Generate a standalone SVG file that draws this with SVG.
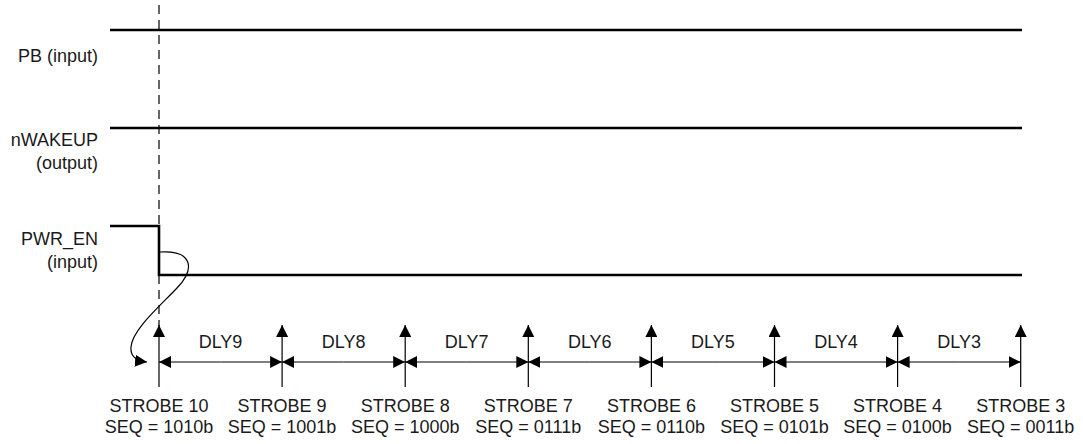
<svg xmlns="http://www.w3.org/2000/svg" width="1083" height="444" viewBox="0 0 1083 444">
<style>
text{font-family:"Liberation Sans",Arial,sans-serif;font-size:18px;fill:#1a1a1a}
.l{text-anchor:end}
.c{text-anchor:middle}
.sig{stroke:#000;stroke-width:2.6;fill:none}
.thin{stroke:#000;stroke-width:1.2;fill:none}
</style>
<defs>
<marker id="ah" viewBox="0 0 12 12" refX="12" refY="6" markerWidth="12" markerHeight="12" markerUnits="userSpaceOnUse" orient="auto">
<path d="M0,0 L12,6 L0,12 Z" fill="#000"/>
</marker>
</defs>
<rect width="1083" height="444" fill="#fff"/>
<g id="labels">
<text class="l" x="98" y="62">PB (input)</text>
<text class="l" x="98" y="146">nWAKEUP</text>
<text class="l" x="98" y="169">(output)</text>
<text class="l" x="98" y="245">PWR_EN</text>
<text class="l" x="98" y="268">(input)</text>
</g>
<g id="signals">
<line class="sig" x1="110" y1="30" x2="1022" y2="30"/>
<line class="sig" x1="110" y1="128" x2="1022" y2="128"/>
<path class="sig" d="M110,226 H159 V275 H1022"/>
</g>
<line id="marker-line" x1="159" y1="5" x2="159" y2="326" stroke="#000" stroke-width="1.2" stroke-dasharray="9,6"/>
<g id="connectors">
<path class="thin" d="M160,252 C192,250 196,268 177,288 C160,306 132,330 131,347 C130,357 138,361 147,362" marker-end="url(#ah)"/>
<g id="strobes">
<line class="thin" x1="159" y1="387" x2="159" y2="325" marker-end="url(#ah)"/>
<line class="thin" x1="282.1" y1="387" x2="282.1" y2="325" marker-end="url(#ah)"/>
<line class="thin" x1="405.2" y1="387" x2="405.2" y2="325" marker-end="url(#ah)"/>
<line class="thin" x1="528.3" y1="387" x2="528.3" y2="325" marker-end="url(#ah)"/>
<line class="thin" x1="651.4" y1="387" x2="651.4" y2="325" marker-end="url(#ah)"/>
<line class="thin" x1="774.5" y1="387" x2="774.5" y2="325" marker-end="url(#ah)"/>
<line class="thin" x1="897.6" y1="387" x2="897.6" y2="325" marker-end="url(#ah)"/>
<line class="thin" x1="1020.7" y1="387" x2="1020.7" y2="325" marker-end="url(#ah)"/>
</g>
<g id="delays">
<path class="thin" d="M220.5,362 H159" marker-end="url(#ah)"/><path class="thin" d="M220.5,362 H282.1" marker-end="url(#ah)"/>
<path class="thin" d="M343.6,362 H282.1" marker-end="url(#ah)"/><path class="thin" d="M343.6,362 H405.2" marker-end="url(#ah)"/>
<path class="thin" d="M466.7,362 H405.2" marker-end="url(#ah)"/><path class="thin" d="M466.7,362 H528.3" marker-end="url(#ah)"/>
<path class="thin" d="M589.8,362 H528.3" marker-end="url(#ah)"/><path class="thin" d="M589.8,362 H651.4" marker-end="url(#ah)"/>
<path class="thin" d="M712.9,362 H651.4" marker-end="url(#ah)"/><path class="thin" d="M712.9,362 H774.5" marker-end="url(#ah)"/>
<path class="thin" d="M836,362 H774.5" marker-end="url(#ah)"/><path class="thin" d="M836,362 H897.6" marker-end="url(#ah)"/>
<path class="thin" d="M959.1,362 H897.6" marker-end="url(#ah)"/><path class="thin" d="M959.1,362 H1020.7" marker-end="url(#ah)"/>
</g>
</g>
<g id="delay-labels">
<text class="c" x="220.5" y="348">DLY9</text>
<text class="c" x="343.6" y="348">DLY8</text>
<text class="c" x="466.7" y="348">DLY7</text>
<text class="c" x="589.8" y="348">DLY6</text>
<text class="c" x="712.9" y="348">DLY5</text>
<text class="c" x="836" y="348">DLY4</text>
<text class="c" x="959.1" y="348">DLY3</text>
</g>
<g id="strobe-labels">
<text class="c" x="159" y="412">STROBE 10</text><text class="c" x="159" y="433">SEQ = 1010b</text>
<text class="c" x="282.1" y="412">STROBE 9</text><text class="c" x="282.1" y="433">SEQ = 1001b</text>
<text class="c" x="405.2" y="412">STROBE 8</text><text class="c" x="405.2" y="433">SEQ = 1000b</text>
<text class="c" x="528.3" y="412">STROBE 7</text><text class="c" x="528.3" y="433">SEQ = 0111b</text>
<text class="c" x="651.4" y="412">STROBE 6</text><text class="c" x="651.4" y="433">SEQ = 0110b</text>
<text class="c" x="774.5" y="412">STROBE 5</text><text class="c" x="774.5" y="433">SEQ = 0101b</text>
<text class="c" x="897.6" y="412">STROBE 4</text><text class="c" x="897.6" y="433">SEQ = 0100b</text>
<text class="c" x="1020.7" y="412">STROBE 3</text><text class="c" x="1020.7" y="433">SEQ = 0011b</text>
</g>
</svg>
